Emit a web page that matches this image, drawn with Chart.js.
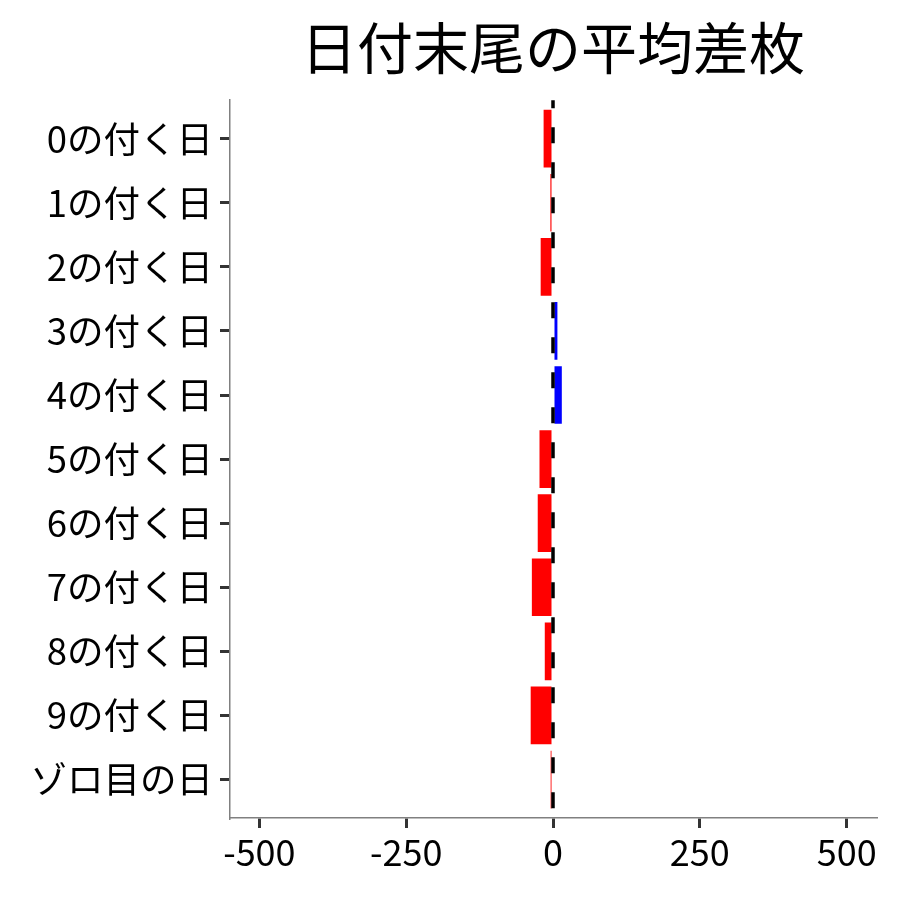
<!DOCTYPE html>
<html>
<head>
<meta charset="utf-8">
<script src="https://cdn.jsdelivr.net/npm/chart.js@4/dist/chart.umd.min.js"></script>
<style>
  html, body { margin: 0; padding: 0; background: #fff; }
  #wrap { width: 900px; height: 900px; }
</style>
</head>
<body>
<div id="wrap"><canvas id="tailChart" width="900" height="900"></canvas></div>
<script>
// 日付末尾ごとの平均差枚
const dayLabels = ['0の付く日', '1の付く日', '2の付く日', '3の付く日', '4の付く日',
    '5の付く日', '6の付く日', '7の付く日', '8の付く日', '9の付く日', 'ゾロ目の日'];
const avgDiff = [-16, -4.5, -21, 7.5, 15, -23, -26, -36, -14, -38, -4];
const xTicks = [-500, -250, 0, 250, 500];

const FONT = '"Noto Sans CJK JP", "Noto Sans", sans-serif';

// zero line, dashed, on top of the bars
const zeroLine = {
    id: 'zeroLine',
    afterDatasetsDraw(chart) {
        const ctx = chart.ctx;
        const area = chart.chartArea;
        const x = chart.scales.x.getPixelForValue(0);
        ctx.save();
        ctx.strokeStyle = '#000';
        ctx.lineWidth = 3.5;
        ctx.setLineDash([16, 19]);
        ctx.lineDashOffset = 8;
        ctx.beginPath();
        ctx.moveTo(x, area.top);
        ctx.lineTo(x, area.bottom);
        ctx.stroke();
        ctx.restore();
    }
};

const ctx = document.getElementById('tailChart').getContext('2d');
new Chart(ctx, {
    type: 'bar',
    data: {
        datasets: [{
            data: dayLabels.map((_, i) => ({ x: avgDiff[i], y: i })),
            backgroundColor: avgDiff.map(v => v < 0 ? '#ff0000' : '#0000ff'),
            borderWidth: 0,
            categoryPercentage: 1.0,
            barPercentage: 0.9
        }]
    },
    options: {
        indexAxis: 'y',
        responsive: false,
        animation: false,
        layout: { padding: { left: 0, right: 24, top: 0, bottom: 0 } },
        scales: {
            x: {
                type: 'linear',
                min: -550,
                max: 550,
                afterBuildTicks: scale => { scale.ticks = xTicks.map(v => ({ value: v })); },
                afterFit: scale => { scale.height = 82; },
                ticks: {
                    color: '#000',
                    font: { family: FONT, size: 36 },
                    padding: 3,
                    maxRotation: 0
                },
                grid: {
                    drawOnChartArea: false,
                    drawTicks: true,
                    tickLength: 10,
                    color: '#333',
                    lineWidth: 3
                },
                border: { display: true, color: '#808080', width: 1.5 }
            },
            y: {
                type: 'linear',
                reverse: true,
                offset: false,
                min: -0.6,
                max: 10.6,
                afterBuildTicks: scale => { scale.ticks = dayLabels.map((_, i) => ({ value: i })); },
                afterFit: scale => { scale.width = 230; },
                ticks: {
                    color: '#000',
                    font: { family: FONT, size: 36.5 },
                    padding: 7,
                    callback: v => dayLabels[v]
                },
                grid: {
                    offset: false,
                    drawOnChartArea: false,
                    drawTicks: true,
                    tickLength: 10,
                    color: '#333',
                    lineWidth: 3
                },
                border: { display: true, color: '#808080', width: 1.5 }
            }
        },
        plugins: {
            legend: { display: false },
            tooltip: { enabled: false },
            title: {
                display: true,
                fullSize: false,
                text: '日付末尾の平均差枚',
                color: '#000',
                font: { family: FONT, size: 56, weight: 'normal', lineHeight: 1.2 },
                padding: { top: 14, bottom: 19 }
            }
        }
    },
    plugins: [zeroLine]
});
</script>
</body>
</html>
